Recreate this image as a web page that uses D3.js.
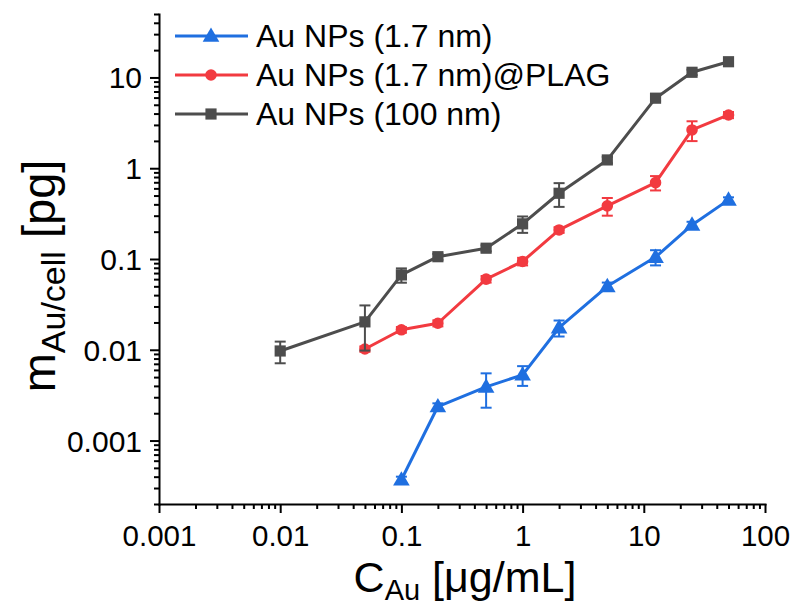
<!DOCTYPE html>
<html>
<head>
<meta charset="utf-8">
<script src="https://cdn.jsdelivr.net/npm/d3@7"></script>
<style>
  html, body { margin: 0; padding: 0; background: #fff; }
  svg { display: block; font-family: "Liberation Sans", Arial, sans-serif; }
</style>
</head>
<body>
<svg id="chart" width="797" height="607"></svg>
<script>
// Gold concentration in the medium (µg/mL)
const concentrations = [0.01, 0.05, 0.1, 0.2, 0.5, 1, 2, 5, 12.5, 25, 50];

// Gold mass per cell (pg), with standard deviations; null = not measured
const auSmall      = [null, null, 0.00037, 0.00237, 0.0039, 0.0053, 0.0175, 0.050, 0.105, 0.237, 0.448];
const auSmallErr   = [null, null, 0.00003, 0.0002, 0.0016, 0.0013, 0.0035, 0.005, 0.02, 0.02, 0.03];
const auPlag       = [null, 0.0102, 0.0166, 0.0196, 0.060, 0.094, 0.209, 0.385, 0.694, 2.64, 3.86];
const auPlagErr    = [null, 0.0007, 0.0012, 0.0015, 0.005, 0.009, 0.015, 0.085, 0.125, 0.65, 0.3];
const auLarge      = [0.0097, 0.0203, 0.0668, 0.106, 0.1315, 0.244, 0.530, 1.234, 5.91, 11.4, 14.9];
const auLargeErr   = [0.0026, 0.0105, 0.012, 0.008, 0.01, 0.05, 0.155, 0.1, 0.4, 0.8, 0.9];

const seriesNames  = ["Au NPs (1.7 nm)", "Au NPs (1.7 nm)@PLAG", "Au NPs (100 nm)"];
const seriesColors = ["#1f6fe0", "#f23a40", "#4d4d4d"];
const seriesShapes = ["triangle", "circle", "square"];

const xTickValues = [0.001, 0.01, 0.1, 1, 10, 100];
const xTickLabels = ["0.001", "0.01", "0.1", "1", "10", "100"];
const yTickValues = [0.001, 0.01, 0.1, 1, 10];
const yTickLabels = ["0.001", "0.01", "0.1", "1", "10"];

const svg = d3.select("#chart");
const plotLeft = 159, plotRight = 765, plotTop = 14, plotBottom = 504;

const x = d3.scaleLog().domain([0.001, 100]).range([plotLeft, plotRight]);
const y = d3.scaleLog().domain([0.0002, 50]).range([plotBottom, plotTop]);

// ---- axes ----
function styleAxis(g) {
  g.selectAll("path, line").attr("stroke", "#000").attr("stroke-width", 2);
  g.select(".domain").attr("stroke-linecap", "square");
}

const xMinor = x.ticks().filter(v => !xTickValues.some(t => Math.abs(t - v) / t < 1e-9));
const yMinor = y.ticks().filter(v => !yTickValues.some(t => Math.abs(t - v) / t < 1e-9));

svg.append("g").attr("transform", `translate(0,${plotBottom})`)
  .call(d3.axisBottom(x).tickValues(xMinor).tickSize(5).tickSizeOuter(0).tickFormat(""))
  .call(styleAxis);
svg.append("g").attr("transform", `translate(0,${plotBottom})`)
  .call(d3.axisBottom(x).tickValues(xTickValues).tickSize(9).tickSizeOuter(0)
    .tickFormat((d, i) => xTickLabels[i]))
  .call(styleAxis)
  .call(g => g.select(".domain").remove())
  .call(g => g.selectAll("text").attr("font-size", 29.5).attr("fill", "#000")
    .attr("font-family", "Liberation Sans, Arial, sans-serif").attr("dy", "0.71em").attr("y", 21));

svg.append("g").attr("transform", `translate(${plotLeft},0)`)
  .call(d3.axisLeft(y).tickValues(yMinor).tickSize(5).tickSizeOuter(0).tickFormat(""))
  .call(styleAxis);
svg.append("g").attr("transform", `translate(${plotLeft},0)`)
  .call(d3.axisLeft(y).tickValues(yTickValues).tickSize(9).tickSizeOuter(0)
    .tickFormat((d, i) => yTickLabels[i]))
  .call(styleAxis)
  .call(g => g.select(".domain").remove())
  .call(g => g.selectAll("text").attr("font-size", 30).attr("fill", "#000")
    .attr("font-family", "Liberation Sans, Arial, sans-serif").attr("x", -17).attr("dy", "0.35em"));

// ---- axis titles ----
const xt = svg.append("text").attr("x", (plotLeft + plotRight) / 2 + 3).attr("y", 592)
  .attr("text-anchor", "middle").attr("font-size", 43).attr("fill", "#000");
xt.append("tspan").text("C");
xt.append("tspan").attr("font-size", 29).attr("dy", 8).text("Au");
xt.append("tspan").attr("dy", -8).text(" [μg/mL]");

const yt = svg.append("text").attr("transform", `translate(55,276) rotate(-90)`)
  .attr("text-anchor", "middle").attr("font-size", 47).attr("fill", "#000");
yt.append("tspan").text("m");
yt.append("tspan").attr("font-size", 34).attr("dy", 10).text("Au/cell");
yt.append("tspan").attr("dy", -10).text(" [pg]");

// ---- series ----
const allSeries = [
  { values: auSmall, errors: auSmallErr },
  { values: auPlag, errors: auPlagErr },
  { values: auLarge, errors: auLargeErr }
];

function markerPath(shape) {
  if (shape === "triangle") return d3.symbol(d3.symbolTriangle, 120)();
  if (shape === "circle") return d3.symbol(d3.symbolCircle, 105)();
  return d3.symbol(d3.symbolSquare, 125)();
}

allSeries.forEach((s, k) => {
  const pts = concentrations.map((c, i) => ({ c, v: s.values[i], e: s.errors[i] }))
    .filter(p => p.v != null);
  const color = seriesColors[k];
  const g = svg.append("g");

  // error bars
  const eb = g.selectAll(".eb").data(pts).join("g");
  eb.append("line")
    .attr("x1", d => x(d.c)).attr("x2", d => x(d.c))
    .attr("y1", d => y(d.v + d.e)).attr("y2", d => y(Math.max(d.v - d.e, 1e-6)))
    .attr("stroke", color).attr("stroke-width", 2);
  [d => d.v + d.e, d => Math.max(d.v - d.e, 1e-6)].forEach(fn => {
    eb.append("line")
      .attr("x1", d => x(d.c) - 5.5).attr("x2", d => x(d.c) + 5.5)
      .attr("y1", d => y(fn(d))).attr("y2", d => y(fn(d)))
      .attr("stroke", color).attr("stroke-width", 2);
  });

  g.append("path").datum(pts)
    .attr("d", d3.line().x(d => x(d.c)).y(d => y(d.v)))
    .attr("fill", "none").attr("stroke", color).attr("stroke-width", 3)
    .attr("stroke-linejoin", "round");

  g.selectAll(".mk").data(pts).join("path")
    .attr("d", markerPath(seriesShapes[k]))
    .attr("transform", d => `translate(${x(d.c)},${y(d.v) + (seriesShapes[k] === "triangle" ? 1 : 0)})`)
    .attr("fill", color);
});

// ---- legend ----
const legend = svg.append("g");
seriesNames.forEach((name, k) => {
  const ly = 36 + k * 39;
  legend.append("line").attr("x1", 175).attr("x2", 248).attr("y1", ly).attr("y2", ly)
    .attr("stroke", seriesColors[k]).attr("stroke-width", 3);
  legend.append("path").attr("d", markerPath(seriesShapes[k]))
    .attr("transform", `translate(211,${ly + (seriesShapes[k] === "triangle" ? 1 : 0)})`)
    .attr("fill", seriesColors[k]);
  legend.append("text").attr("x", 256).attr("y", ly).attr("dy", "0.35em")
    .attr("font-size", 32).attr("fill", "#000").text(name);
});
</script>
</body>
</html>
